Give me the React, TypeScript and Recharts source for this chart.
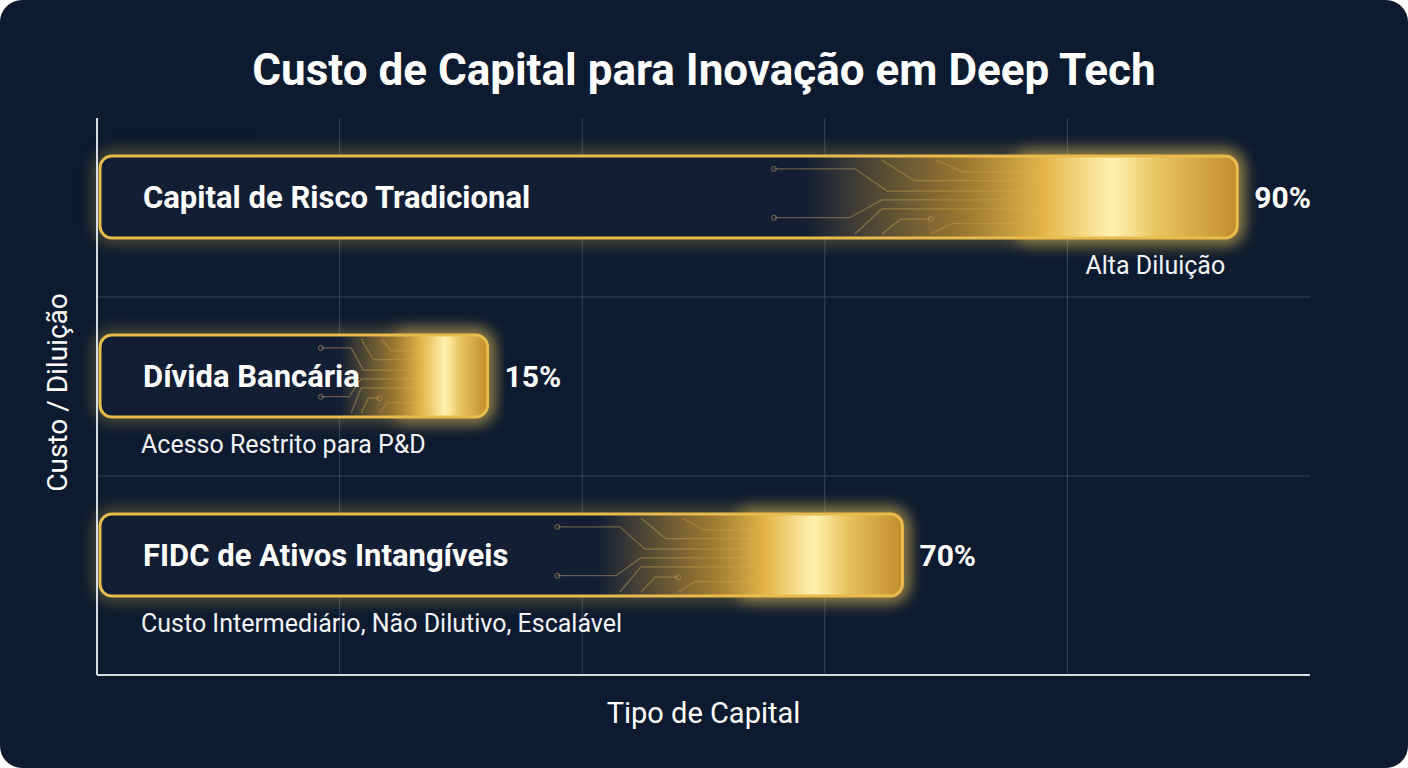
import { BarChart, Bar, XAxis, YAxis, CartesianGrid } from 'recharts'

const categorias = ['Capital de Risco Tradicional', 'Dívida Bancária', 'FIDC de Ativos Intangíveis']
const percentuais = [90, 15, 70]
const extensao = [94, 32.2, 66.4]
const notas = ['Alta Diluição', 'Acesso Restrito para P&D', 'Custo Intermediário, Não Dilutivo, Escalável']
const ticksX = [20, 40, 60, 80]

const dados = categorias.map((categoria, i) => ({
  categoria,
  extensao: extensao[i],
  percentual: percentuais[i],
  nota: notas[i],
}))

const FONTE = 'Roboto, "Noto Sans", sans-serif'
const FUNDO = '#0c1b30'
const OURO = '#e9bb4c'
const PAD_BAIXO = 20
const ERGUER = 11

// trilhas de "circuito" em coordenadas relativas (u: 0→1 até o início do ouro, v: 0→1 na altura)
const trilhas: [number, number][][] = [
  [[0, 0.12], [0.3, 0.12], [0.42, 0.42], [1, 0.42]],
  [[0.4, 0], [0.52, 0.28], [1, 0.28]],
  [[0.6, 0], [0.7, 0.16], [1, 0.16]],
  [[0, 0.78], [0.28, 0.78], [0.4, 0.54], [1, 0.54]],
  [[0.3, 1], [0.4, 0.66], [1, 0.66]],
  [[0.4, 1], [0.47, 0.8], [0.58, 0.8]],
  [[0.58, 1], [0.66, 0.86], [1, 0.86]],
]

function BarraOuro(props: any) {
  const { x, y, width, height, payload, index } = props
  const bx = x + 3
  const by = y - ERGUER
  const bw = width - 3
  const bh = height
  const gx = bx + bw * 0.83
  const span = Math.min(270, bw * 0.26)
  const sx = gx - span
  const gid = `ouro-${index}`
  const longa = index === 0
  return (
    <g>
      <defs>
        <linearGradient id={gid} x1="0" y1="0" x2="1" y2="0">
          <stop offset="0" stopColor="#d9a63a" stopOpacity={0} />
          <stop offset="0.62" stopColor="#d9a63a" stopOpacity={0} />
          <stop offset="0.76" stopColor="#c9962f" stopOpacity={0.75} />
          <stop offset="0.83" stopColor="#e4b648" />
          <stop offset="0.89" stopColor="#fff2b0" />
          <stop offset="0.93" stopColor="#e9c45e" />
          <stop offset="1" stopColor="#c08d2a" />
        </linearGradient>
        <filter id={`brilho-${index}`} x="-10%" y="-60%" width="120%" height="220%">
          <feGaussianBlur stdDeviation="8" />
        </filter>
      </defs>
      <rect x={bx} y={by} width={bw} height={bh} rx={12} fill="none" stroke={OURO} strokeWidth={7} opacity={0.6} filter={`url(#brilho-${index})`} />
      <rect x={gx - 30} y={by - 6} width={bx + bw - gx + 36} height={bh + 12} rx={16} fill="#f0c255" opacity={0.5} filter={`url(#brilho-${index})`} />
      <rect x={bx} y={by} width={bw} height={bh} rx={12} fill="#111e34" />
      {trilhas.map((t, k) => (
        <g key={k}>
          <polyline
            points={t.map(([u, v]) => `${sx + u * span},${by + 4 + v * (bh - 8)}`).join(' ')}
            fill="none"
            stroke="rgba(200,172,110,0.45)"
            strokeWidth={1.2}
          />
          {(k === 0 || k === 3 || k === 5) && (
            <circle
              cx={sx + t[k === 5 ? t.length - 1 : 0][0] * span}
              cy={by + 4 + t[k === 5 ? t.length - 1 : 0][1] * (bh - 8)}
              r={2.5}
              fill="none"
              stroke="rgba(200,172,110,0.55)"
            />
          )}
        </g>
      ))}
      <rect x={bx} y={by} width={bw} height={bh} rx={12} fill={`url(#${gid})`} />
      <rect x={bx} y={by} width={bw} height={bh} rx={12} fill="none" stroke={OURO} strokeWidth={3} />
      <text x={bx + 43} y={by + bh / 2} dominantBaseline="central" fill="#ffffff" fontSize={31} fontWeight={700} fontFamily={FONTE}>
        {payload.categoria}
      </text>
      <text x={bx + bw + 17} y={by + bh / 2} dominantBaseline="central" fill="#ffffff" fontSize={30} fontWeight={700} fontFamily={FONTE}>
        {`${payload.percentual}%`}
      </text>
      <text
        x={longa ? bx + bw - 12 : bx + 41}
        y={by + bh + 27}
        textAnchor={longa ? 'end' : 'start'}
        dominantBaseline="central"
        fill="#f2f4f7"
        fontSize={25}
        fontFamily={FONTE}
      >
        {payload.nota}
      </text>
    </g>
  )
}

export default function App() {
  return (
    <div
      style={{
        position: 'relative',
        width: 1408,
        height: 768,
        background: FUNDO,
        borderRadius: 22,
        overflow: 'hidden',
        fontFamily: FONTE,
      }}
    >
      <style>{'body{margin:0;background:#ffffff}'}</style>
      <div
        style={{
          position: 'absolute',
          top: 44,
          left: 0,
          width: '100%',
          textAlign: 'center',
          color: '#ffffff',
          fontSize: 44,
          fontWeight: 700,
          lineHeight: '52px',
        }}
      >
        Custo de Capital para Inovação em Deep Tech
      </div>
      <BarChart
        width={1408}
        height={768}
        data={dados}
        layout="vertical"
        margin={{ top: 118, right: 98, bottom: 92, left: 96 }}
      >
        <CartesianGrid
          stroke="#34445c"
          strokeWidth={1}
          verticalCoordinatesGenerator={({ offset }: any) =>
            ticksX.map((t) => offset.left + (offset.width * t) / 100)
          }
          horizontalCoordinatesGenerator={({ offset }: any) => {
            const banda = (offset.height - PAD_BAIXO) / categorias.length
            return [1, 2].map((k) => offset.top + k * banda)
          }}
        />
        <XAxis
          type="number"
          domain={[0, 100]}
          ticks={ticksX}
          tick={false}
          tickLine={false}
          height={1}
          axisLine={{ stroke: '#d5dbe3', strokeWidth: 2 }}
          label={{ value: 'Tipo de Capital', position: 'bottom', offset: 26, fill: '#ffffff', fontSize: 29 }}
        />
        <YAxis
          type="category"
          dataKey="categoria"
          width={1}
          tick={false}
          tickLine={false}
          padding={{ top: 0, bottom: PAD_BAIXO }}
          axisLine={{ stroke: '#d5dbe3', strokeWidth: 2 }}
          label={{
            content: (p: any) => {
              const vb = p.viewBox
              const cx = vb.x + vb.width - 40
              const cy = vb.y + vb.height / 2 - 4
              return (
                <text
                  x={cx}
                  y={cy}
                  transform={`rotate(-90 ${cx} ${cy})`}
                  textAnchor="middle"
                  dominantBaseline="central"
                  fill="#ffffff"
                  fontSize={28}
                  fontFamily={FONTE}
                >
                  Custo / Diluição
                </text>
              )
            },
          }}
        />
        <Bar dataKey="extensao" barSize={82} shape={<BarraOuro />} isAnimationActive={false} />
      </BarChart>
    </div>
  )
}
